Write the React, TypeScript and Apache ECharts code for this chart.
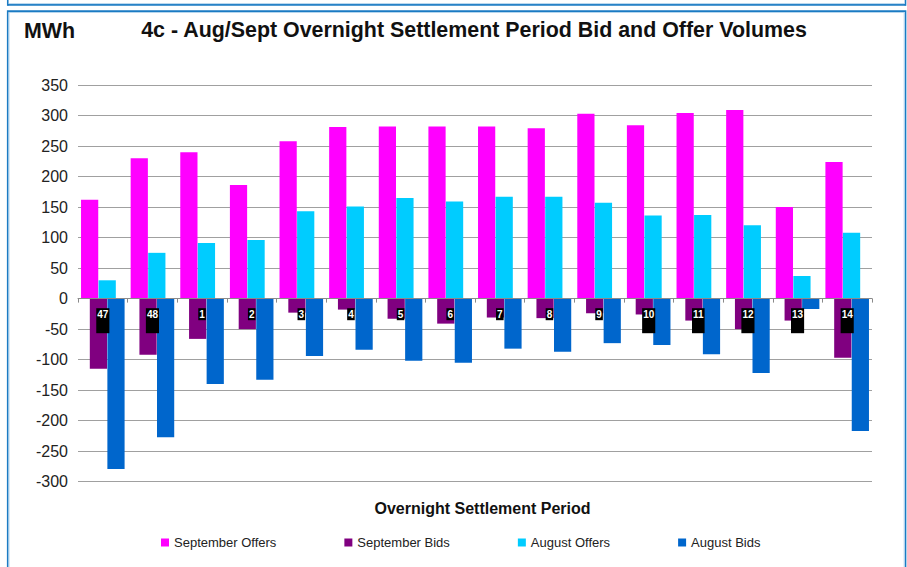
import React, { useEffect, useRef } from "react";
import * as echarts from "echarts";

const categories = ["47", "48", "1", "2", "3", "4", "5", "6", "7", "8", "9", "10", "11", "12", "13", "14"];
const septOffers = [162, 230, 240, 186, 258, 281, 282, 282, 282, 279, 303, 284, 304, 309, 150, 224];
const septBids = [-115, -92, -66, -50, -23, -18, -33, -41, -31, -32, -24, -26, -36, -50, -36, -97];
const augOffers = [30, 75, 91, 96, 143, 151, 165, 159, 167, 167, 157, 136, 137, 120, 37, 108];
const augBids = [-279, -227, -140, -133, -94, -84, -102, -105, -82, -87, -73, -76, -91, -122, -17, -217];
const tallLabelCategories = ["47", "48", "10", "11", "12", "13", "14"];
const yTicks = { min: -300, max: 350, interval: 50 };

const FONT = "'Liberation Sans', Arial, sans-serif";
const DARK = "#1b7bc3";
const LIGHT = "#b6d6ee";

export default function App() {
  const ref = useRef<HTMLDivElement>(null);
  useEffect(() => {
    if (!ref.current) return;
    const chart = echarts.init(ref.current, null, { renderer: "svg" });
    const barBase = { type: "bar", barWidth: "34.7%", barGap: "-49%" };
    chart.setOption({
      animation: false,
      backgroundColor: "#ffffff",
      textStyle: { fontFamily: FONT },
      grid: { left: 78, right: 35, top: 85, bottom: 85.3, containLabel: false },
      legend: {
        left: 161,
        top: 536,
        padding: 0,
        itemWidth: 8,
        itemHeight: 8,
        itemGap: 68,
        icon: "rect",
        textStyle: { fontFamily: FONT, fontSize: 13, color: "#222" },
        data: ["September Offers", "September Bids", "August Offers", "August Bids"],
      },
      xAxis: {
        type: "category",
        data: categories,
        z: 5,
        axisLine: { onZero: true, lineStyle: { color: "#8a8a8a", width: 1 } },
        axisTick: { show: true, length: 4, lineStyle: { color: "#8a8a8a" } },
        splitLine: { show: false },
        axisLabel: {
          interval: 0,
          margin: -173.5,
          formatter: (v: string) => (tallLabelCategories.includes(v) ? `{t|${v}}` : `{s|${v}}`),
          rich: {
            t: {
              backgroundColor: "#000",
              color: "#fff",
              fontWeight: "bold",
              fontSize: 10,
              fontFamily: FONT,
              padding: [1, 1, 14, 1],
            },
            s: {
              backgroundColor: "#000",
              color: "#fff",
              fontWeight: "bold",
              fontSize: 10,
              fontFamily: FONT,
              padding: [1, 1, 1, 1],
            },
          },
        },
      },
      yAxis: {
        type: "value",
        min: yTicks.min,
        max: yTicks.max,
        interval: yTicks.interval,
        axisLine: { show: false },
        axisTick: { show: false },
        splitLine: { lineStyle: { color: "#a0a0a0", width: 1 } },
        axisLabel: { margin: 10, fontSize: 16, color: "#222", fontFamily: FONT },
      },
      series: [
        { ...barBase, name: "September Offers", data: septOffers, itemStyle: { color: "#ff00ff" } },
        { ...barBase, name: "September Bids", data: septBids, itemStyle: { color: "#800080" } },
        { ...barBase, name: "August Offers", data: augOffers, itemStyle: { color: "#00ccff" } },
        { ...barBase, name: "August Bids", data: augBids, itemStyle: { color: "#0066cc" } },
      ],
      graphic: [
        { type: "line", shape: { x1: 7.75, y1: 4.9, x2: 905.5, y2: 4.9 }, style: { stroke: DARK, lineWidth: 1.8 } },
        { type: "line", shape: { x1: 9, y1: 3.6, x2: 904.3, y2: 3.6 }, style: { stroke: LIGHT, lineWidth: 1 } },
        { type: "line", shape: { x1: 7.75, y1: -5, x2: 7.75, y2: 5.8 }, style: { stroke: DARK, lineWidth: 1.6 } },
        { type: "line", shape: { x1: 905.5, y1: -5, x2: 905.5, y2: 5.8 }, style: { stroke: DARK, lineWidth: 1.6 } },
        { type: "rect", shape: { x: 7.75, y: 11.2, width: 897.75, height: 700 }, style: { fill: "none", stroke: DARK, lineWidth: 1.7 } },
        { type: "rect", shape: { x: 9, y: 12.5, width: 895.2, height: 700 }, style: { fill: "none", stroke: LIGHT, lineWidth: 1 } },
        {
          type: "text",
          x: 474,
          y: 30,
          style: {
            text: "4c - Aug/Sept Overnight Settlement Period Bid and Offer Volumes",
            font: `bold 21.4px ${FONT}`,
            fill: "#111",
            textAlign: "center",
            textVerticalAlign: "middle",
          },
        },
        {
          type: "text",
          x: 24,
          y: 31,
          style: { text: "MWh", font: `bold 21.4px ${FONT}`, fill: "#111", textAlign: "left", textVerticalAlign: "middle" },
        },
        {
          type: "text",
          x: 482.5,
          y: 508,
          style: {
            text: "Overnight Settlement Period",
            font: `bold 16px ${FONT}`,
            fill: "#111",
            textAlign: "center",
            textVerticalAlign: "middle",
          },
        },
      ],
    });
    return () => chart.dispose();
  }, []);
  return (
    <div
      ref={ref}
      style={{ position: "absolute", left: 0, top: 0, width: 907, height: 567, background: "#fff" }}
    />
  );
}
